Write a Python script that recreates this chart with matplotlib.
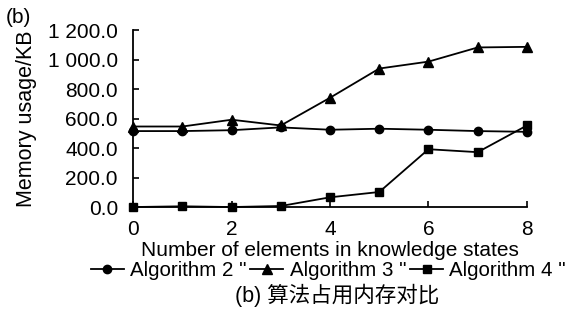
import matplotlib
matplotlib.use("Agg")
import matplotlib.pyplot as plt
from matplotlib.ticker import FuncFormatter

x = [0, 1, 2, 3, 4, 5, 6, 7, 8]
alg2 = [515, 515, 521, 540, 524, 531, 524, 515, 510]
alg3 = [546, 546, 592, 553, 741, 939, 986, 1082, 1086]
alg4 = [0, 5, 0, 7, 66, 102, 392, 372, 553]
labels = ['Algorithm 2 "', 'Algorithm 3 "', 'Algorithm 4 "']
xticks = [0, 2, 4, 6, 8]
yticks = [0, 200, 400, 600, 800, 1000, 1200]

plt.rcParams['font.family'] = ['Liberation Sans', 'Noto Sans CJK SC', 'DejaVu Sans']

fig = plt.figure(figsize=(5.74, 3.23), dpi=100)
ax = fig.add_axes([0.232, 0.359, 0.686, 0.548])

kw = dict(color='black', linewidth=1.3, clip_on=False)
ax.plot(x, alg2, marker='o', markersize=6, label=labels[0], **kw)
ax.plot(x, alg3, marker='^', markersize=6.5, label=labels[1], **kw)
ax.plot(x, alg4, marker='s', markersize=5.5, label=labels[2], **kw)

ax.set_xlim(0, 8)
ax.set_ylim(0, 1200)
ax.set_xticks(xticks)
ax.set_yticks(yticks)
ax.yaxis.set_major_formatter(FuncFormatter(lambda v, p: f"{v:,.1f}".replace(",", " ")))

for s in ['top', 'right']:
    ax.spines[s].set_visible(False)
for s in ['left', 'bottom']:
    ax.spines[s].set_linewidth(1.3)
    ax.spines[s].set_color('black')
ax.tick_params(direction='in', length=4, width=1.2, labelsize=15, colors='black')
ax.tick_params(axis='y', pad=11)
ax.tick_params(axis='x', pad=9)

ax.set_xlabel('Number of elements in knowledge states', fontsize=15, labelpad=1.5)
ax.set_ylabel('Memory usage/KB', fontsize=15.5)
ax.yaxis.set_label_coords(-0.245, 0.5)

fig.text(0.01, 0.975, '(b)', fontsize=15, va='top', ha='left')

fig.legend(loc='center', bbox_to_anchor=(0.572, 0.161), ncol=3, frameon=False,
           fontsize=14.8, handlelength=1.6, handletextpad=0.3, columnspacing=0.2,
           borderpad=0, borderaxespad=0)

fig.text(0.587, 0.085, '(b) 算法占用内存对比', fontsize=15.5, ha='center', va='center')

fig.savefig('out.png', dpi=100, facecolor='white')
